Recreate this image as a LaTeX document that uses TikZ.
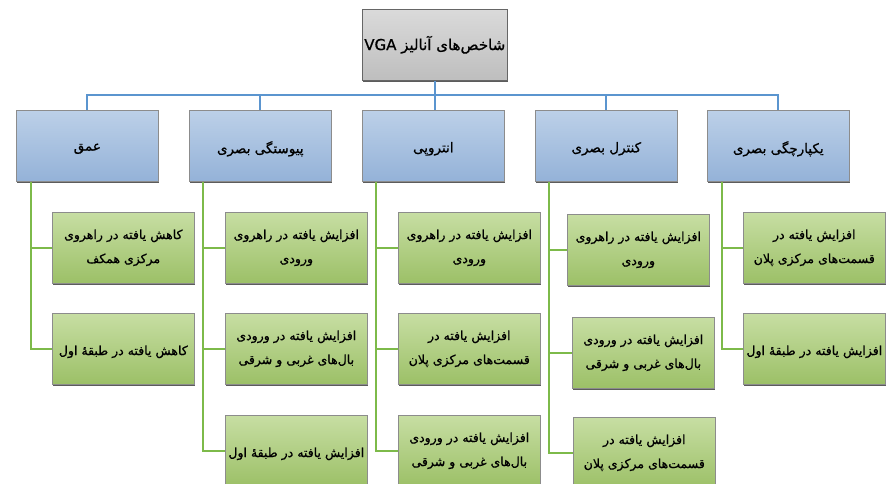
\documentclass[tikz,border=0pt]{standalone}
\usepackage{fontspec}
\newfontfamily\fa[Script=Arabic,FakeBold=0.9]{DejaVu Sans}
\TeXXeTstate=1
\usetikzlibrary{shadows}
\definecolor{blueT}{HTML}{BCD0E8}
\definecolor{blueB}{HTML}{94B2D8}
\definecolor{greenT}{HTML}{C7DEA3}
\definecolor{greenB}{HTML}{9CC067}
\definecolor{grayT}{HTML}{DADADA}
\definecolor{grayB}{HTML}{BEBEBE}
\definecolor{blueL}{HTML}{5B95CF}
\definecolor{greenL}{HTML}{7DBA4A}
\newcommand\fatext[1]{\beginR #1\endR}
\newcommand\fadown[1]{\raisebox{-3pt}[\height][\depth]{\beginR #1\endR}}
\tikzset{
  box/.style={draw=black!45, line width=0.6pt, minimum width=142pt, minimum height=71pt,
    anchor=north west, inner sep=2pt, align=center,
    font=\fa\fontsize{12.5}{24}\selectfont,
    drop shadow={shadow xshift=0.3pt, shadow yshift=-1.6pt, opacity=0.75, fill=black!85}},
  bluebox/.style={box, top color=blueT, bottom color=blueB, font=\fa\fontsize{13.5}{24}\selectfont},
  greenbox/.style={box, top color=greenT, bottom color=greenB},
  graybox/.style={box, top color=grayT, bottom color=grayB, draw=black!60, minimum width=143pt,
    font=\fa\fontsize{15}{24}\selectfont},
  blueline/.style={draw=blueL, line width=2pt},
  greenline/.style={draw=greenL, line width=1.8pt},
}
\begin{document}
\begin{tikzpicture}[x=1pt,y=-1pt]
\useasboundingbox (0,0) rectangle (886,483);
\fill[white] (0,0) rectangle (886,483);
\clip (0,0) rectangle (886,483);

% top
\node[graybox] (top) at (362,9) {\fatext{شاخص‌های آنالیز \beginL VGA\endL}};

% level 1
\node[bluebox] (c1) at (16,110) {\fadown{عمق}};
\node[bluebox] (c2) at (189,110) {\fadown{پیوستگی بصری}};
\node[bluebox] (c3) at (362,110) {\fadown{انتروپی}};
\node[bluebox] (c4) at (535,110) {\fadown{کنترل بصری}};
\node[bluebox] (c5) at (707,110) {\fadown{یکپارچگی بصری}};

% bus
\coordinate (bus) at (433,95);
\draw[blueline] (top.south) -- (top.south |- c3.north);
\draw[blueline] (c1.north) -- (c1.north |- bus) -- (c5.north |- bus) -- (c5.north);
\draw[blueline] (c2.north) -- (c2.north |- bus);
\draw[blueline] (c4.north) -- (c4.north |- bus);

% column 1
\node[greenbox] (k11) at (52,212) {\fatext{کاهش یافته در راهروی}\\\fatext{مرکزی همکف}};
\node[greenbox] (k12) at (52,313) {\fadown{کاهش یافته در طبقهٔ اول}};
% column 2
\node[greenbox] (k21) at (225,212) {\fatext{افزایش یافته در راهروی}\\\fatext{ورودی}};
\node[greenbox] (k22) at (225,313) {\fatext{افزایش یافته در ورودی}\\\fatext{بال‌های غربی و شرقی}};
\node[greenbox] (k23) at (225,415) {\fadown{افزایش یافته در طبقهٔ اول}};
% column 3
\node[greenbox] (k31) at (398,212) {\fatext{افزایش یافته در راهروی}\\\fatext{ورودی}};
\node[greenbox] (k32) at (398,313) {\fatext{افزایش یافته در}\\\fatext{قسمت‌های مرکزی پلان}};
\node[greenbox] (k33) at (398,415) {\fatext{افزایش یافته در ورودی}\\\fatext{بال‌های غربی و شرقی}};
% column 4
\node[greenbox] (k41) at (567,214) {\fatext{افزایش یافته در راهروی}\\\fatext{ورودی}};
\node[greenbox] (k42) at (572,317) {\fatext{افزایش یافته در ورودی}\\\fatext{بال‌های غربی و شرقی}};
\node[greenbox] (k43) at (573,417) {\fatext{افزایش یافته در}\\\fatext{قسمت‌های مرکزی پلان}};
% column 5
\node[greenbox] (k51) at (743,212) {\fatext{افزایش یافته در}\\\fatext{قسمت‌های مرکزی پلان}};
\node[greenbox] (k52) at (743,313) {\fadown{افزایش یافته در طبقهٔ اول}};

% green connectors
\draw[greenline] ([xshift=15pt]c1.south west) |- (k12.west);
\draw[greenline] ([xshift=15pt]c1.south west) |- (k11.west);
\draw[greenline] ([xshift=14pt]c2.south west) |- (k23.west);
\draw[greenline] ([xshift=14pt]c2.south west) |- (k22.west);
\draw[greenline] ([xshift=14pt]c2.south west) |- (k21.west);
\draw[greenline] ([xshift=14pt]c3.south west) |- (k33.west);
\draw[greenline] ([xshift=14pt]c3.south west) |- (k32.west);
\draw[greenline] ([xshift=14pt]c3.south west) |- (k31.west);
\draw[greenline] ([xshift=14pt]c4.south west) |- (k43.west);
\draw[greenline] ([xshift=14pt]c4.south west) |- (k42.west);
\draw[greenline] ([xshift=14pt]c4.south west) |- (k41.west);
\draw[greenline] ([xshift=15pt]c5.south west) |- (k52.west);
\draw[greenline] ([xshift=15pt]c5.south west) |- (k51.west);
\end{tikzpicture}
\end{document}
